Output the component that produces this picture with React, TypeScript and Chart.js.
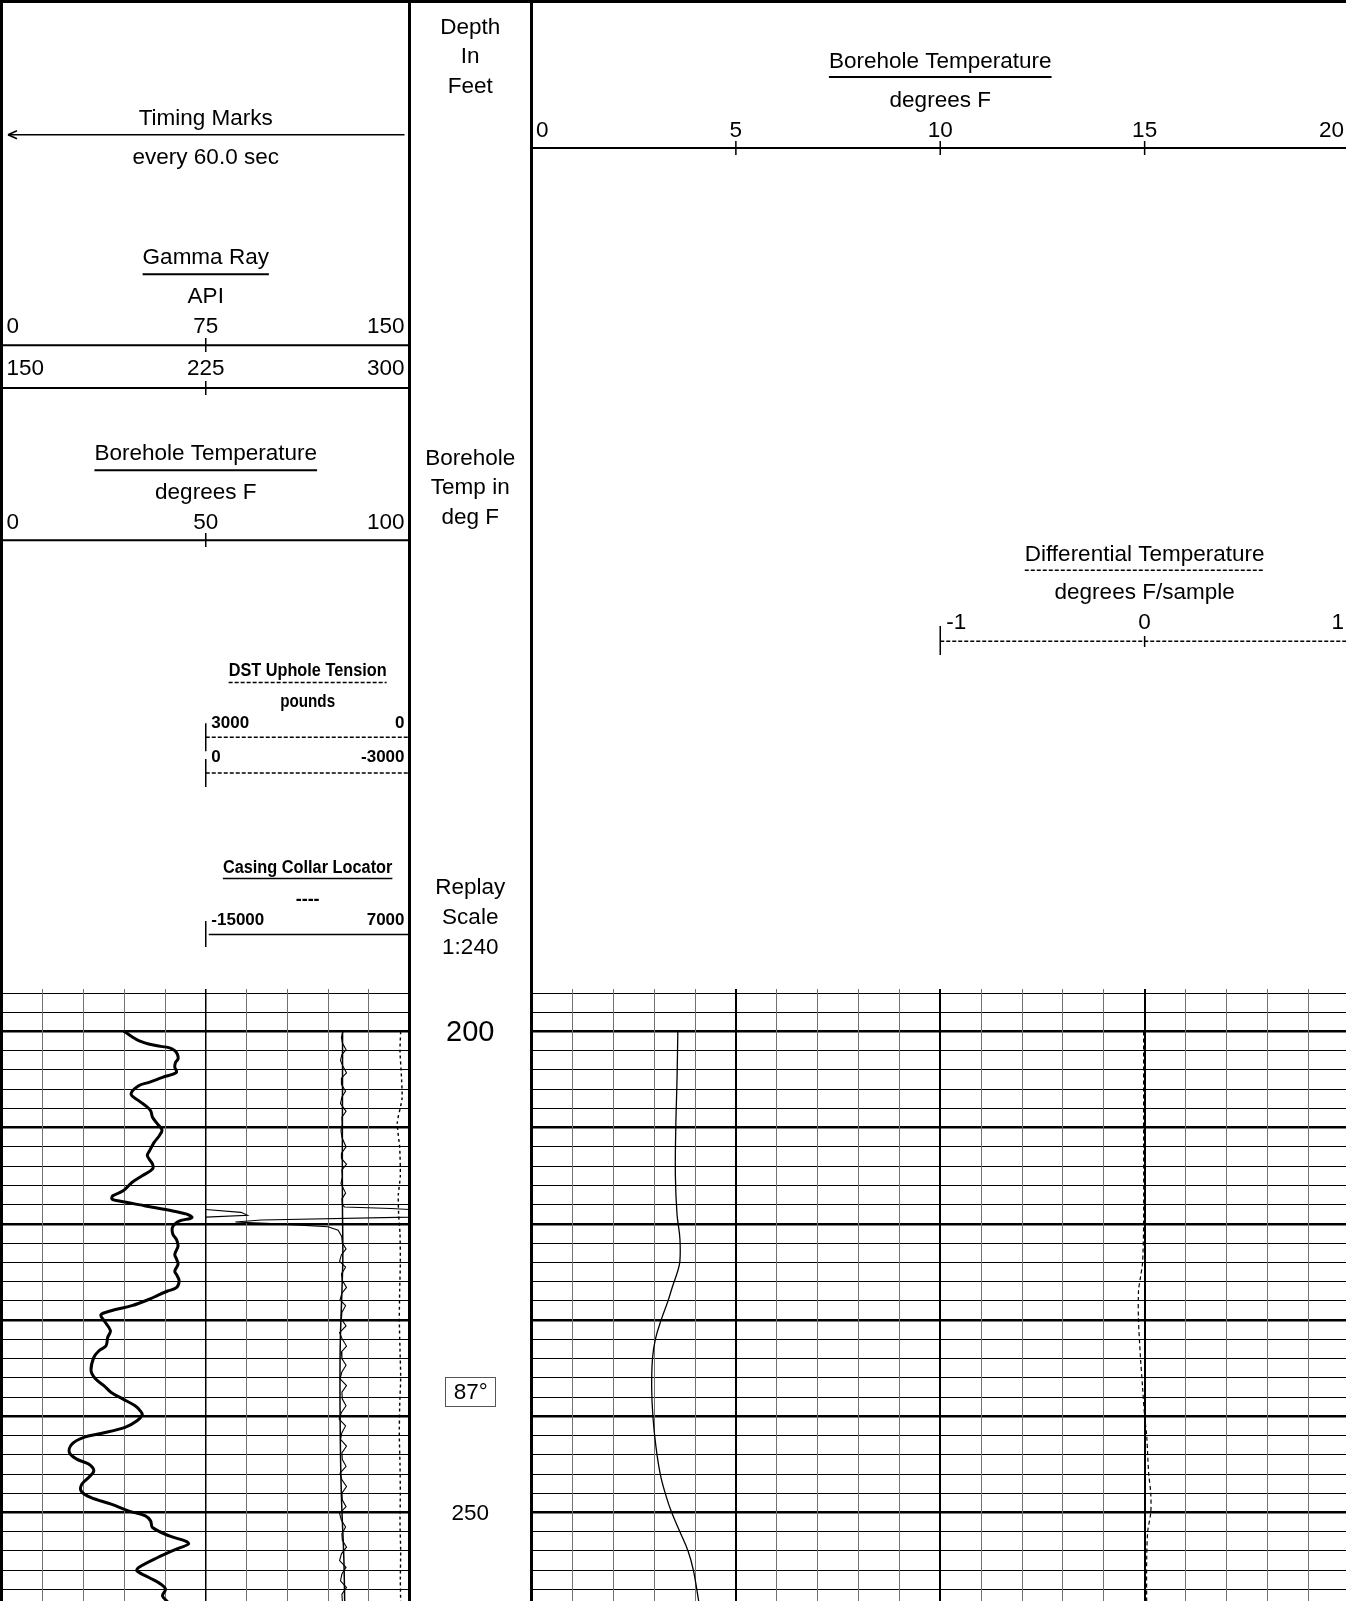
import React, { useEffect, useRef } from 'react';
import { Chart, registerables } from 'chart.js';

Chart.register(...registerables);

// ---------- depth frame ----------
const DEPTH_TOP = 195.53;
const DEPTH_BOTTOM = 259.2;

const depthLabelValues = [200, 250];
const depthLabelTexts = ['200', '250'];
const maxTempDepth = 237.4;
const maxTempText = '87°';

// ---------- curves: [depth ft, value] ----------
const gammaRay: [number, number][] = [
  [200.0, 45.0], [200.94, 50.3], [201.46, 56.6], [201.7, 61.7], [201.98, 63.6], [202.4, 64.6],
  [202.85, 64.8], [203.2, 63.9], [203.7, 63.6], [204.24, 64.2], [204.76, 59.1], [205.28, 54.1],
  [205.63, 50.3], [206.5, 47.5], [207.19, 50.3], [207.7, 52.8], [208.23, 54.7], [208.92, 55.4],
  [209.62, 57.3], [210.24, 58.9], [210.83, 57.9], [211.53, 56.0], [212.4, 54.3], [212.92, 53.5],
  [213.78, 55.4], [214.3, 55.4], [215.0, 51.6], [215.7, 47.8], [216.56, 44.6], [217.08, 40.8],
  [217.43, 40.5], [217.6, 42.7], [218.13, 52.8], [218.65, 62.9], [218.99, 68.0], [219.34, 69.9],
  [219.69, 65.4], [220.03, 63.6], [220.38, 62.7], [221.08, 62.9], [221.6, 64.2], [222.3, 64.8],
  [223.16, 63.6], [223.7, 64.3], [224.2, 64.8], [224.9, 63.6], [225.4, 64.5], [225.94, 65.2],
  [226.63, 64.2], [227.0, 60.8], [227.4, 57.5], [227.8, 54.5], [228.5, 47.8], [229.03, 40.2],
  [229.45, 36.4], [230.07, 37.6], [231.1, 39.9], [231.8, 38.9], [232.67, 38.3], [233.19, 35.7],
  [233.88, 33.8], [235.27, 32.8], [236.13, 34.5], [236.83, 37.6], [237.52, 40.2], [238.21, 44.6],
  [238.91, 49.0], [239.43, 50.9], [239.84, 51.6], [240.47, 49.7], [241.16, 45.3], [241.79, 36.4],
  [242.2, 30.1], [242.9, 25.7], [243.76, 24.8], [244.45, 27.5], [244.97, 31.9], [245.67, 33.8],
  [246.36, 31.9], [247.05, 29.4], [247.75, 29.1], [248.44, 32.6], [249.13, 40.2], [249.83, 46.5],
  [250.35, 52.8], [250.87, 54.7], [251.56, 55.4], [252.43, 61.6], [253.02, 68.0], [253.29, 68.6],
  [253.81, 64.2], [254.68, 57.3], [255.72, 50.3], [256.07, 49.7], [256.76, 54.1], [257.45, 58.5],
  [257.97, 60.2], [258.67, 59.1], [259.29, 61.0],
];

const boreholeTemp: [number, number][] = [
  [200, 83.58], [205, 83.56], [210, 83.53], [215, 83.52], [219, 83.56], [221.5, 83.63],
  [223.9, 83.63], [225, 83.57], [226.5, 83.45], [228, 83.34], [230, 83.17], [232, 83.03],
  [234, 82.96], [237, 82.94], [240, 82.97], [243, 83.04], [246, 83.15], [248.4, 83.3],
  [250, 83.43], [252, 83.63], [254, 83.83], [256, 83.96], [259.2, 84.09],
];

const diffTemp: [number, number][] = [
  [200, -0.005], [210, -0.005], [220, -0.005], [224, -0.01], [225.5, -0.02], [227, -0.03],
  [230, -0.03], [234, -0.02], [237, -0.01], [240, 0], [242, 0.01], [244, 0.015], [246, 0.02],
  [248, 0.03], [250, 0.03], [252, 0.015], [255, 0.01], [259.2, 0.01],
];

const dstTension: [number, number][] = [
  [200, 130], [202, 140], [204.5, 120], [207, 110], [209.5, 180], [212, 145], [215, 135],
  [217, 165], [219, 160], [221, 140], [224, 135], [227, 145], [230, 150], [233, 140],
  [236, 130], [239, 145], [242, 150], [245, 140], [248, 135], [251, 140], [254, 130],
  [257, 135], [259.2, 130],
];

const collarLocator: [number, number][] = [
  [200.0, -200], [200.6, -350], [201.2, -250], [201.9, 150], [202.4, -300], [203.0, -450],
  [203.6, -200], [204.3, 200], [204.8, -300], [205.5, -350], [206.2, 100], [206.8, -300],
  [207.5, -450], [208.3, 150], [208.9, -300], [209.6, -250], [210.3, -400], [211.0, -300],
  [212.0, 150], [212.6, -300], [213.2, -350], [213.8, 200], [214.4, -300], [215.1, -250],
  [215.8, -400], [216.8, 100], [217.4, -300], [218.0, -250], [218.25, 0], [218.4, 5000],
  [218.5, 7000], [218.8, 10800], [219.1, 11500], [219.3, 7000], [219.6, -9000], [219.8, -11800],
  [219.95, -8500], [220.05, -6400], [220.15, -4300], [220.3, -1800], [220.65, -700], [221.3, -320],
  [222.0, -250], [222.6, 150], [223.2, -350], [223.9, -550], [224.5, 100], [225.2, -350],
  [225.9, -250], [226.6, 200], [227.2, -300], [227.9, -500], [228.5, 100], [229.2, -300],
  [229.9, -350], [230.6, 150], [231.3, -550], [232.0, -250], [232.7, 200], [233.3, -350],
  [234.0, -300], [234.7, 150], [235.4, -300], [236.1, -500], [236.8, 200], [237.5, -300],
  [238.2, -250], [238.9, 150], [239.6, -350], [240.3, -600], [241.0, 100], [241.7, -300],
  [242.4, -450], [243.1, 200], [243.8, -300], [244.5, -250], [245.2, 150], [245.9, -500],
  [246.6, -300], [247.3, 200], [248.0, -300], [248.7, -250], [249.4, 150], [250.1, -550],
  [250.8, -350], [251.5, 100], [252.2, -300], [252.9, -250], [253.6, 200], [254.3, -350],
  [255.0, -550], [255.7, 150], [256.4, -300], [257.1, -450], [257.8, 200], [258.5, -300],
  [259.2, -250],
];

// ---------- scale ranges & header tick labels ----------
const grRange = [0, 150];
const grTickValues = [0, 75, 150];
const grTickLabels = ['0', '75', '150'];
const grBackupLabels = ['150', '225', '300'];

const t1Range = [0, 100];
const t1TickValues = [0, 50, 100];
const t1TickLabels = ['0', '50', '100'];

const dstLeft = 3000;
const dstRight = 0;
const dstTickLabels = ['3000', '0'];
const dstBackupLabels = ['0', '-3000'];

const cclLeft = -15000;
const cclRight = 7000;
const cclTickLabels = ['-15000', '7000'];

const t2Range = [80, 100];
const t2TickValues = [80, 85, 90, 95, 100];
const t2TickLabels = ['0', '5', '10', '15', '20'];

const dtTickValues = [-1, 0, 1];
const dtTickLabels = ['-1', '0', '1'];

// ---------- drawing helpers ----------
const FAM = '"Liberation Sans", Arial, Helvetica, sans-serif';
const F22 = `22.5px ${FAM}`;
const FB18 = `bold 18px ${FAM}`;
const FB17 = `bold 17px ${FAM}`;
const TEXT_DY = 1.8;

function txt(ctx: CanvasRenderingContext2D, s: string, x: number, y: number, font: string,
  align: CanvasTextAlign = 'center', maxW?: number) {
  ctx.save();
  ctx.font = font;
  ctx.fillStyle = '#000';
  ctx.textAlign = align;
  ctx.textBaseline = 'middle';
  if (maxW) ctx.fillText(s, x, y + TEXT_DY, maxW); else ctx.fillText(s, x, y + TEXT_DY);
  ctx.restore();
}

function seg(ctx: CanvasRenderingContext2D, x1: number, y1: number, x2: number, y2: number,
  w: number, dash: number[] = []) {
  ctx.save();
  ctx.strokeStyle = '#000';
  ctx.lineWidth = w;
  ctx.setLineDash(dash);
  ctx.beginPath();
  ctx.moveTo(x1, y1);
  ctx.lineTo(x2, y2);
  ctx.stroke();
  ctx.restore();
}

function titled(ctx: CanvasRenderingContext2D, s: string, x: number, y: number, uy: number,
  font: string, w: number, dash: number[] = [], maxW?: number) {
  ctx.save();
  ctx.font = font;
  let tw = ctx.measureText(s).width;
  ctx.restore();
  if (maxW && tw > maxW) tw = maxW;
  txt(ctx, s, x, y, font, 'center', maxW);
  seg(ctx, x - tw / 2, uy, x + tw / 2, uy, w, dash);
}

function rowLabels(ctx: CanvasRenderingContext2D, labels: string[], pxs: number[], y: number,
  font: string, leftPad = 4.5) {
  labels.forEach((s, i) => {
    if (i === 0) txt(ctx, s, pxs[i] + leftPad, y, font, 'left');
    else if (i === labels.length - 1) txt(ctx, s, pxs[i] - 5, y, font, 'right');
    else txt(ctx, s, pxs[i], y, font, 'center');
  });
}

const depthGridTicks: number[] = [];
for (let d = 196; d <= 258; d += 2) depthGridTicks.push(d);

function depthScale(show: boolean): any {
  return {
    type: 'linear',
    axis: 'y',
    position: 'left',
    reverse: true,
    min: DEPTH_TOP,
    max: DEPTH_BOTTOM,
    display: show,
    afterBuildTicks: (ax: any) => {
      ax.ticks = depthGridTicks.map((v) => ({ value: v }));
    },
    ticks: { display: false },
    border: { display: false },
    grid: {
      drawTicks: false,
      color: '#000',
      lineWidth: (c: any) => (c.tick && c.tick.value % 10 === 0 ? 2.6 : 1),
    },
  };
}

function hidden(min: number, max: number, reverse = false): any {
  return { type: 'linear', axis: 'x', display: false, min, max, reverse };
}

const toXY = (arr: [number, number][]) => arr.map(([d, v]) => ({ x: v, y: d }));

const baseOptions: any = {
  responsive: false,
  maintainAspectRatio: false,
  animation: false,
  events: [],
  indexAxis: 'y',
  plugins: { legend: { display: false }, tooltip: { enabled: false } },
  elements: { point: { radius: 0 } },
};

// ---------- track 1 (gamma ray, temperature, DST, CCL) ----------
const track1Header = {
  id: 'track1Header',
  afterDraw(chart: any) {
    const ctx: CanvasRenderingContext2D = chart.ctx;
    const { left: L, right: R } = chart.chartArea;
    const W = chart.width, H = chart.height;
    const mid = (L + R) / 2;
    const gr = chart.scales.xGR, t1 = chart.scales.xT1, dst = chart.scales.xDST, ccl = chart.scales.xCCL;

    txt(ctx, 'Timing Marks', mid, 117.4, F22);
    seg(ctx, 8, 134.8, R - 5, 134.8, 1.5);
    seg(ctx, 8, 134.8, 17, 130.8, 1.5);
    seg(ctx, 8, 134.8, 17, 138.8, 1.5);
    txt(ctx, 'every 60.0 sec', mid, 156.2, F22);

    titled(ctx, 'Gamma Ray', mid, 256.3, 274.2, F22, 2);
    txt(ctx, 'API', mid, 295.1, F22);
    const grPx = grTickValues.map((v) => gr.getPixelForValue(v));
    rowLabels(ctx, grTickLabels, grPx, 324.7, F22);
    seg(ctx, L, 345.2, R, 345.2, 2);
    seg(ctx, grPx[1], 338, grPx[1], 352, 1.5);
    rowLabels(ctx, grBackupLabels, grPx, 366.6, F22);
    seg(ctx, L, 388.1, R, 388.1, 2);
    seg(ctx, grPx[1], 381, grPx[1], 395, 1.5);

    titled(ctx, 'Borehole Temperature', mid, 452.4, 470.3, F22, 2);
    txt(ctx, 'degrees F', mid, 491.2, F22);
    const t1Px = t1TickValues.map((v) => t1.getPixelForValue(v));
    rowLabels(ctx, t1TickLabels, t1Px, 520.8, F22);
    seg(ctx, L, 540.2, R, 540.2, 2);
    seg(ctx, t1Px[1], 533, t1Px[1], 547, 1.5);

    const dl = dst.getPixelForValue(dstLeft), dr = dst.getPixelForValue(dstRight);
    const dm = (dl + dr) / 2;
    titled(ctx, 'DST Uphole Tension', dm, 668.9, 682.5, FB18, 1.5, [4, 2], 158);
    txt(ctx, 'pounds', dm, 700.5, FB18, 'center', 55);
    rowLabels(ctx, dstTickLabels, [dl, dr], 722, FB17, 5.6);
    seg(ctx, dl, 737.3, dr, 737.3, 1.5, [4, 2]);
    seg(ctx, dl, 723.3, dl, 751.3, 1.5);
    rowLabels(ctx, dstBackupLabels, [dl, dr], 755.7, FB17, 5.6);
    seg(ctx, dl, 773, dr, 773, 1.5, [4, 2]);
    seg(ctx, dl, 759, dl, 787, 1.5);

    const cl = ccl.getPixelForValue(cclLeft), cr = ccl.getPixelForValue(cclRight);
    const cm = (cl + cr) / 2;
    titled(ctx, 'Casing Collar Locator', cm, 866, 878.5, FB18, 1.5, [], 169.5);
    txt(ctx, '----', cm, 898.7, FB18, 'center', 25);
    rowLabels(ctx, cclTickLabels, [cl, cr], 919, FB17, 5.6);
    seg(ctx, cl + 3, 934.4, cr, 934.4, 1.5);
    seg(ctx, cl, 921, cl, 947, 1.5);

    ctx.save();
    ctx.fillStyle = '#000';
    ctx.fillRect(0, 0, 3, H);
    ctx.fillRect(0, 0, W, 3);
    ctx.fillRect(408, 0, 3, H);
    ctx.restore();
  },
};

// ---------- depth track ----------
const depthHeader = {
  id: 'depthHeader',
  afterDraw(chart: any) {
    const ctx: CanvasRenderingContext2D = chart.ctx;
    const cx = 59.25;
    const y = chart.scales.y;
    txt(ctx, 'Depth', cx, 25.5, F22);
    txt(ctx, 'In', cx, 55.1, F22);
    txt(ctx, 'Feet', cx, 84.8, F22);
    txt(ctx, 'Borehole', cx, 456.5, F22);
    txt(ctx, 'Temp in', cx, 486, F22);
    txt(ctx, 'deg F', cx, 515.7, F22);
    txt(ctx, 'Replay', cx, 886.4, F22);
    txt(ctx, 'Scale', cx, 916, F22);
    txt(ctx, '1:240', cx, 945.6, F22);
    depthLabelValues.forEach((d, i) => {
      const size = i === 0 ? 29 : 22.5;
      txt(ctx, depthLabelTexts[i], cx, y.getPixelForValue(d), `${size}px ${FAM}`);
    });
    const my = y.getPixelForValue(maxTempDepth);
    ctx.save();
    ctx.strokeStyle = '#555';
    ctx.lineWidth = 1;
    ctx.strokeRect(Math.round(cx - 25) + 0.5, Math.round(my - 14.5) + 0.5, 50, 29);
    ctx.restore();
    txt(ctx, maxTempText, cx + 0.5, my, F22);
    ctx.save();
    ctx.fillStyle = '#000';
    ctx.fillRect(0, 0, chart.width, 3);
    ctx.restore();
  },
};

// ---------- track 2/3 (expanded temperature, differential temperature) ----------
const track2Header = {
  id: 'track2Header',
  afterDraw(chart: any) {
    const ctx: CanvasRenderingContext2D = chart.ctx;
    const { left: L, right: R } = chart.chartArea;
    const H = chart.height, W = chart.width;
    const t2 = chart.scales.xT2, dt = chart.scales.xDT;
    const t2Px = t2TickValues.map((v) => t2.getPixelForValue(v));
    const tm = t2Px[2];

    titled(ctx, 'Borehole Temperature', tm, 60.3, 77, F22, 2);
    txt(ctx, 'degrees F', tm, 99, F22);
    rowLabels(ctx, t2TickLabels, t2Px, 128.7, F22);
    seg(ctx, L, 148, R, 148, 2);
    for (let i = 1; i < t2Px.length - 1; i++) seg(ctx, t2Px[i], 141, t2Px[i], 155, 1.5);

    const dPx = dtTickValues.map((v) => dt.getPixelForValue(v));
    titled(ctx, 'Differential Temperature', dPx[1], 552.5, 570.2, F22, 1.5, [4, 2]);
    txt(ctx, 'degrees F/sample', dPx[1], 591.3, F22);
    rowLabels(ctx, dtTickLabels, dPx, 621, F22, 6);
    seg(ctx, dPx[0], 641.3, dPx[2], 641.3, 1.5, [4, 2]);
    seg(ctx, dPx[0], 626, dPx[0], 655, 1.5);
    seg(ctx, dPx[1], 636, dPx[1], 647, 1.5);

    ctx.save();
    ctx.fillStyle = '#000';
    ctx.fillRect(1, 0, 3, H);
    ctx.fillRect(0, 0, W, 3);
    ctx.restore();
  },
};

export default function App() {
  const c1 = useRef<HTMLCanvasElement>(null);
  const c2 = useRef<HTMLCanvasElement>(null);
  const c3 = useRef<HTMLCanvasElement>(null);

  useEffect(() => {
    document.body.style.margin = '0';
    document.body.style.overflow = 'hidden';

    const cclData = toXY(collarLocator);
    const cclSpan = cclRight - cclLeft;
    const dstSpan = dstLeft - dstRight;

    const chart1 = new Chart(c1.current as HTMLCanvasElement, {
      type: 'line',
      data: {
        datasets: [
          {
            data: toXY(gammaRay), xAxisID: 'xGR', yAxisID: 'y',
            borderColor: '#000', borderWidth: 3, tension: 0.35,
            borderJoinStyle: 'round', borderCapStyle: 'round', fill: false,
          },
          {
            data: toXY(boreholeTemp), xAxisID: 'xT1', yAxisID: 'y',
            borderColor: '#000', borderWidth: 1.5, tension: 0.4, fill: false,
          },
          {
            data: cclData, xAxisID: 'xCCL', yAxisID: 'y',
            borderColor: '#000', borderWidth: 1.1, tension: 0, fill: false,
          },
          {
            data: cclData.filter((p) => p.x >= cclRight), xAxisID: 'xCCLW', yAxisID: 'y',
            borderColor: '#000', borderWidth: 1.1, tension: 0, fill: false,
          },
          {
            data: toXY(dstTension), xAxisID: 'xDST', yAxisID: 'y',
            borderColor: '#000', borderWidth: 1.4, borderDash: [3, 3], tension: 0.2, fill: false,
          },
        ] as any,
      },
      options: {
        ...baseOptions,
        layout: { padding: { left: 2, right: 2.5, top: 988.5, bottom: 0 } },
        scales: {
          y: depthScale(true),
          xGR: {
            type: 'linear', axis: 'x', position: 'top', min: grRange[0], max: grRange[1],
            ticks: { display: false, stepSize: 15 },
            border: { display: false },
            grid: {
              drawTicks: false,
              color: (c: any) => (c.tick && c.tick.value === 75 ? '#000' : '#707070'),
              lineWidth: (c: any) => (c.tick && c.tick.value === 75 ? 1.5 : 1),
            },
          },
          xT1: hidden(t1Range[0], t1Range[1]),
          xCCL: hidden(cclLeft - cclSpan, cclRight),
          xCCLW: hidden(cclLeft, cclRight + cclSpan),
          xDST: hidden(dstRight, dstLeft + dstSpan, true),
        },
      } as any,
      plugins: [track1Header],
    });

    const chart2 = new Chart(c2.current as HTMLCanvasElement, {
      type: 'line',
      data: { datasets: [] },
      options: {
        ...baseOptions,
        layout: { padding: { left: 0, right: 0, top: 988.5, bottom: 0 } },
        scales: {
          y: { ...depthScale(false) },
          x: hidden(0, 1),
        },
      } as any,
      plugins: [depthHeader],
    });

    const chart3 = new Chart(c3.current as HTMLCanvasElement, {
      type: 'line',
      data: {
        datasets: [
          {
            data: toXY(boreholeTemp), xAxisID: 'xT2', yAxisID: 'y',
            borderColor: '#000', borderWidth: 1.3, tension: 0.4, fill: false,
          },
          {
            data: toXY(diffTemp), xAxisID: 'xDT', yAxisID: 'y',
            borderColor: '#000', borderWidth: 1.2, borderDash: [4, 3], tension: 0.3, fill: false,
          },
        ] as any,
      },
      options: {
        ...baseOptions,
        layout: { padding: { left: 2.5, right: 2, top: 988.5, bottom: 0 } },
        scales: {
          y: depthScale(true),
          xT2: {
            type: 'linear', axis: 'x', position: 'top', min: t2Range[0], max: t2Range[1],
            ticks: { display: false, stepSize: 1 },
            border: { display: false },
            grid: {
              drawTicks: false,
              color: (c: any) => (c.tick && Math.round(c.tick.value) % 5 === 0 ? '#000' : '#707070'),
              lineWidth: (c: any) => (c.tick && Math.round(c.tick.value) % 5 === 0 ? 2 : 1),
            },
          },
          xDT: hidden(-3, 1),
        },
      } as any,
      plugins: [track2Header],
    });

    return () => {
      chart1.destroy();
      chart2.destroy();
      chart3.destroy();
    };
  }, []);

  return (
    <div style={{ position: 'absolute', left: 0, top: 0, width: 1346, height: 1601, overflow: 'hidden', background: '#fff' }}>
      <canvas ref={c1} width={412} height={1601} style={{ position: 'absolute', left: 0, top: 0 }} />
      <canvas ref={c2} width={118} height={1601} style={{ position: 'absolute', left: 411, top: 0 }} />
      <canvas ref={c3} width={822} height={1601} style={{ position: 'absolute', left: 529, top: 0 }} />
    </div>
  );
}
